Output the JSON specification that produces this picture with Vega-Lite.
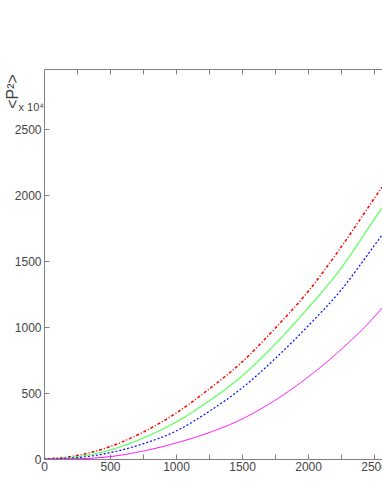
{
  "$schema": "https://vega.github.io/schema/vega-lite/v6.json",
  "width": 338,
  "height": 390,
  "autosize": {"type": "none"},
  "padding": {"left": 44, "top": 69, "right": 0, "bottom": 35},
  "background": "white",
  "config": {
    "view": {"stroke": null},
    "axis": {
      "grid": false,
      "domainColor": "#808080",
      "tickColor": "#808080",
      "labelColor": "#444444",
      "labelFont": "Liberation Sans",
      "labelFontSize": 12,
      "labelOverlap": false,
      "labelFlush": false,
      "titleFont": "Liberation Sans",
      "titleFontWeight": "normal",
      "titleColor": "#444444"
    }
  },
  "data": {
    "values": [
      {"x": 0, "y": 0, "s": "a"}, {"x": 250, "y": 26, "s": "a"}, {"x": 500, "y": 94, "s": "a"}, {"x": 750, "y": 203, "s": "a"}, {"x": 1000, "y": 348, "s": "a"}, {"x": 1250, "y": 530, "s": "a"}, {"x": 1500, "y": 735, "s": "a"}, {"x": 1750, "y": 990, "s": "a"}, {"x": 2000, "y": 1269, "s": "a"}, {"x": 2250, "y": 1605, "s": "a"}, {"x": 2500, "y": 1972, "s": "a"}, {"x": 2560, "y": 2060, "s": "a"},
      {"x": 0, "y": 0, "s": "b"}, {"x": 250, "y": 17, "s": "b"}, {"x": 500, "y": 68, "s": "b"}, {"x": 750, "y": 158, "s": "b"}, {"x": 1000, "y": 280, "s": "b"}, {"x": 1250, "y": 440, "s": "b"}, {"x": 1500, "y": 629, "s": "b"}, {"x": 1750, "y": 870, "s": "b"}, {"x": 2000, "y": 1144, "s": "b"}, {"x": 2250, "y": 1445, "s": "b"}, {"x": 2500, "y": 1814, "s": "b"}, {"x": 2560, "y": 1902, "s": "b"},
      {"x": 0, "y": 0, "s": "c"}, {"x": 250, "y": 10, "s": "c"}, {"x": 500, "y": 48, "s": "c"}, {"x": 750, "y": 115, "s": "c"}, {"x": 1000, "y": 212, "s": "c"}, {"x": 1250, "y": 360, "s": "c"}, {"x": 1500, "y": 538, "s": "c"}, {"x": 1750, "y": 760, "s": "c"}, {"x": 2000, "y": 1008, "s": "c"}, {"x": 2250, "y": 1280, "s": "c"}, {"x": 2500, "y": 1615, "s": "c"}, {"x": 2560, "y": 1697, "s": "c"},
      {"x": 0, "y": 0, "s": "d"}, {"x": 250, "y": 2, "s": "d"}, {"x": 500, "y": 18, "s": "d"}, {"x": 750, "y": 60, "s": "d"}, {"x": 1000, "y": 121, "s": "d"}, {"x": 1250, "y": 200, "s": "d"}, {"x": 1500, "y": 303, "s": "d"}, {"x": 1750, "y": 445, "s": "d"}, {"x": 2000, "y": 621, "s": "d"}, {"x": 2250, "y": 830, "s": "d"}, {"x": 2500, "y": 1075, "s": "d"}, {"x": 2560, "y": 1144, "s": "d"}
    ]
  },
  "layer": [
    {
      "mark": {"type": "line", "interpolate": "monotone", "clip": true},
      "encoding": {
        "x": {
          "field": "x", "type": "quantitative",
          "scale": {"domain": [0, 2560], "nice": false, "zero": true},
          "axis": {
            "orient": "bottom", "title": null,
            "values": [0, 250, 500, 750, 1000, 1250, 1500, 1750, 2000, 2250, 2500],
            "format": "d",
            "labelExpr": "datum.value % 500 === 0 ? datum.label : ''",
            "tickSize": -5,
            "labelPadding": 7
          }
        },
        "y": {
          "field": "y", "type": "quantitative",
          "scale": {"domain": [0, 2955], "nice": false},
          "axis": {
            "orient": "left",
            "title": "<P²>",
            "titleFontSize": 16,
            "titleAngle": 270,
            "titleX": -32,
            "titleY": 22,
            "titleAlign": "center",
            "titleBaseline": "middle",
            "values": [0, 250, 500, 750, 1000, 1250, 1500, 1750, 2000, 2250, 2500, 2750],
            "format": "d",
            "labelExpr": "datum.value % 500 === 0 ? datum.label : ''",
            "tickSize": -5,
            "labelPadding": 8
          }
        },
        "color": {
          "field": "s", "type": "nominal", "legend": null,
          "scale": {"domain": ["a", "b", "c", "d"], "range": ["#ff0000", "#66ff66", "#0000ff", "#ff00ff"]}
        },
        "strokeDash": {
          "field": "s", "type": "nominal", "legend": null,
          "scale": {"domain": ["a", "b", "c", "d"], "range": [[3, 2, 1, 2], [1, 0], [2, 2], [1, 0]]}
        },
        "strokeWidth": {
          "field": "s", "type": "nominal", "legend": null,
          "scale": {"domain": ["a", "b", "c", "d"], "range": [1.5, 1, 1.5, 2]}
        }
      }
    },
    {
      "data": {"values": [{"label": "x 10⁴"}]},
      "mark": {"type": "text", "align": "right", "baseline": "middle", "font": "Liberation Sans", "fontSize": 11, "color": "#444444"},
      "encoding": {
        "text": {"field": "label"},
        "x": {
          "datum": 0, "type": "quantitative",
          "scale": {"domain": [0, 2560], "nice": false},
          "axis": {
            "orient": "top", "title": null, "labels": false,
            "values": [0, 250, 500, 750, 1000, 1250, 1500, 1750, 2000, 2250, 2500],
            "tickSize": -5
          }
        },
        "y": {"datum": 2660, "type": "quantitative"}
      }
    }
  ],
  "resolve": {"axis": {"x": "independent"}}
}
